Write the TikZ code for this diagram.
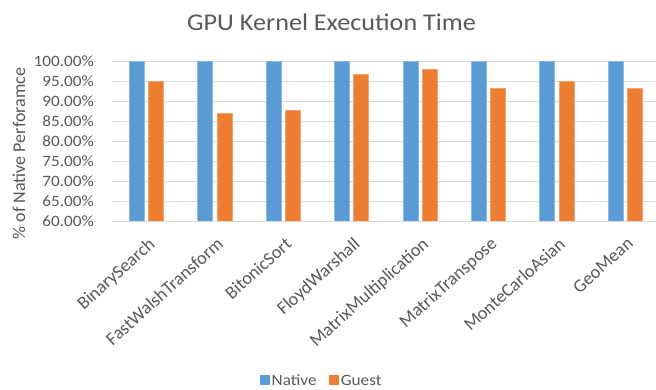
\documentclass[tikz,border=0pt]{standalone}
\usepackage{fontspec}
\setmainfont{Carlito}
\definecolor{nativeblue}{HTML}{5B9BD5}
\definecolor{guestorange}{HTML}{ED7D31}
\definecolor{gridgray}{HTML}{D9D9D9}
\definecolor{textgray}{HTML}{595959}
% slightly widened glyphs, as in the chart's typeface
\newcommand{\wx}[1]{\scalebox{1.09}[1]{#1}}
\tikzset{
  gridline/.style={draw=gridgray, line width=1.3pt},
  ticklabel/.style={inner sep=0pt, text=textgray, font=\fontsize{15.75}{18}\selectfont},
  catlabel/.style={inner sep=0pt, text=textgray, font=\fontsize{18.3}{20}\selectfont},
  axistitle/.style={inner sep=0pt, text=textgray, font=\fontsize{18}{20}\selectfont},
  charttitle/.style={inner sep=0pt, text=textgray, font=\fontsize{24}{28}\selectfont},
  legendkey/.style={inner sep=0pt, minimum size=10pt, draw=none},
  legendtext/.style={inner sep=0pt, text=textgray, font=\fontsize{15.75}{18}\selectfont},
  nativebar/.style={fill=nativeblue, draw=nativeblue!70!white, line width=0.5pt},
  guestbar/.style={fill=guestorange, draw=guestorange!70!white, line width=0.5pt}
}
\begin{document}
\begin{tikzpicture}[x=1pt,y=-1pt]
  \useasboundingbox (0,0) rectangle (656,390);
  \fill[white] (0,0) rectangle (656,390);

  % horizontal grid, 100% down to 60%
  \foreach \k in {0,...,8}
    \draw[gridline] (112,{61.5+20*\k}) -- (656,{61.5+20*\k});

  % value axis labels
  \foreach \k/\lab in {0/100.00,1/95.00,2/90.00,3/85.00,4/80.00,5/75.00,6/70.00,7/65.00,8/60.00}
    \node[ticklabel, anchor=base east] (tick\k) at (94,{66.5+20*\k}) {\wx{\lab\%}};

  % bars: native is always 100%, guest as measured
  \foreach \i/\g in {0/94.95,1/87.0,2/87.8,3/96.8,4/97.95,5/93.2,6/95.0,7/93.2} {
    \pgfmathsetmacro\xl{129.2+68.4*\i}
    \pgfmathsetmacro\gt{61.5+(100-\g)*4}
    \path[nativebar] (\xl,61.5) rectangle (\xl+15,221.5);
    \path[guestbar] (\xl+19.3,\gt) rectangle (\xl+34.3,221.5);
  }
  \draw[gridline] (112,221.5) -- (656,221.5);

  % category labels
  \foreach \i/\name in {0/BinarySearch,1/FastWalshTransform,2/BitonicSort,3/FloydWarshall,
                        4/MatrixMultiplication,5/MatrixTranspose,6/MonteCarloAsian,7/GeoMean}
    \node[catlabel, rotate=42, anchor=north east] (cat\i) at ({147.4+68.4*\i},236) {\name};

  % titles
  \node[charttitle, anchor=base] (title) at (331.5,31) {\wx{GPU Kernel Execution Time}};
  \node[axistitle, rotate=90] (ytitle) at (19,153.5) {\% of Native Perforamce};

  % legend
  \node[legendkey, fill=nativeblue] (keynative) at (264.5,380.3) {};
  \node[legendtext, anchor=base west] (txtnative) at (271.5,385.5) {\wx{Native}};
  \node[legendkey, fill=guestorange] (keyguest) at (334,380.3) {};
  \node[legendtext, anchor=base west] (txtguest) at (340.7,385.5) {\wx{Guest}};
\end{tikzpicture}
\end{document}
